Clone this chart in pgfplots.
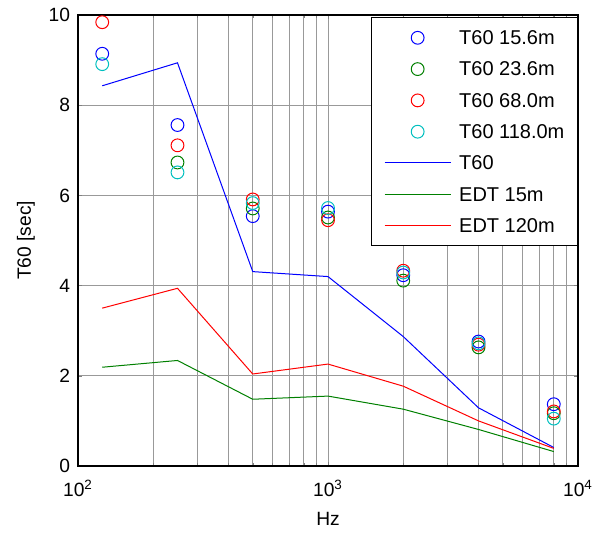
\documentclass[border=0pt]{standalone}
\usepackage{pgfplots}
\pgfplotsset{compat=1.18}
\usepackage{fontspec}
\setmainfont{Liberation Sans}
\definecolor{mblue}{rgb}{0,0,1}
\definecolor{mgreen}{rgb}{0,0.5,0}
\definecolor{mred}{rgb}{1,0,0}
\definecolor{mcyan}{rgb}{0,0.75,0.75}
\pgfplotsset{
  markleg/.style={only marks, mark=o, mark size=3.2pt, line width=0.5pt,
    legend image code/.code={\path (0pt,0pt) (33pt,0pt); \draw[mark repeat=1,mark phase=1,##1] plot coordinates {(16.5pt,0pt)};}},
  lineleg/.style={line width=0.5pt, mark=none,
    legend image code/.code={\draw[##1] (0pt,0pt) -- (33pt,0pt);}},
}
\begin{document}
\fontsize{10}{12}\selectfont
\begin{tikzpicture}
\begin{axis}[
  xmode=log, scale only axis, width=250pt, height=225.5pt,
  xmin=100, xmax=10000, ymin=0, ymax=10,
  xtick={100,1000,10000},
  xticklabels={10\textsuperscript{2},10\textsuperscript{3},10\textsuperscript{4}},
  ytick={0,2,4,6,8,10},
  /pgf/number format/assume math mode=true,
  grid=both,
  major grid style={gray!80, line width=0.45pt},
  minor grid style={gray!80, line width=0.45pt},
  tick align=inside, major tick length=2pt, minor tick length=1.5pt,
  axis line style={line width=0.6pt},
  tick label style={font=\fontsize{9.6}{12}\selectfont},
  xticklabel style={yshift=-3.5pt},
  yticklabel style={xshift=-0.5pt},
  label style={font=\fontsize{9.6}{12}\selectfont},
  xlabel={Hz}, ylabel={T60 [sec]},
  xlabel style={yshift=-1pt},
  legend cell align=left,
  legend style={at={(1,1)}, anchor=north east, yshift=-1pt,
    font=\fontsize{10}{12}\selectfont,
    draw=black, line width=0.6pt,
    inner xsep=6.5pt, inner ysep=5.5pt, column sep=4pt, row sep=6.45pt,
    nodes={inner sep=0pt, text height=8pt, text depth=1.2pt}},
]
\addplot[mblue, markleg]
  coordinates {(125,9.14) (250,7.56) (500,5.54) (1000,5.64) (2000,4.23) (4000,2.76) (8000,1.37)};
\addlegendentry{T60 15.6m}
\addplot[mgreen, markleg]
  coordinates {(250,6.73) (500,5.71) (1000,5.51) (2000,4.11) (4000,2.63) (8000,1.17)};
\addlegendentry{T60 23.6m}
\addplot[mred, markleg]
  coordinates {(125,9.84) (250,7.11) (500,5.91) (1000,5.45) (2000,4.33) (4000,2.69) (8000,1.21)};
\addlegendentry{T60 68.0m}
\addplot[mcyan, markleg]
  coordinates {(125,8.91) (250,6.51) (500,5.83) (1000,5.72) (2000,4.29) (4000,2.72) (8000,1.05)};
\addlegendentry{T60 118.0m}
\addplot[mblue, lineleg]
  coordinates {(125,8.43) (250,8.94) (500,4.31) (1000,4.20) (2000,2.87) (4000,1.29) (8000,0.41)};
\addlegendentry{T60}
\addplot[mgreen, lineleg]
  coordinates {(125,2.19) (250,2.34) (500,1.48) (1000,1.55) (2000,1.26) (4000,0.81) (8000,0.32)};
\addlegendentry{EDT 15m}
\addplot[mred, lineleg]
  coordinates {(125,3.50) (250,3.94) (500,2.04) (1000,2.26) (2000,1.77) (4000,1.00) (8000,0.39)};
\addlegendentry{EDT 120m}
\end{axis}
\pgfresetboundingbox
\path ([shift={(-39pt,-33.5pt)}]current axis.south west) rectangle ([shift={(12pt,7.5pt)}]current axis.north east);
\end{tikzpicture}
\end{document}
